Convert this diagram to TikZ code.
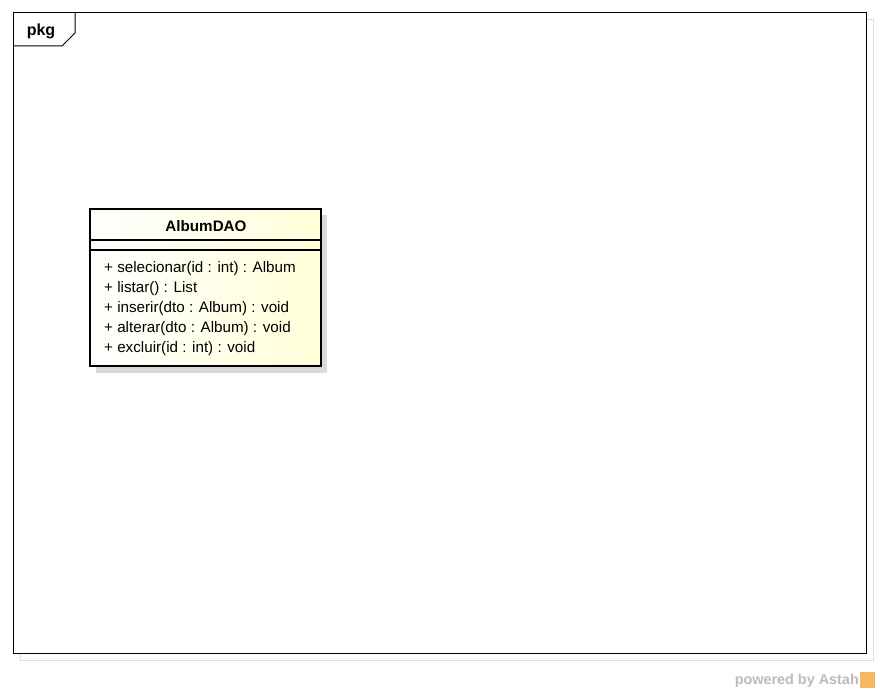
\documentclass[tikz,border=0pt]{standalone}
\usepackage{fontspec}
\setmainfont{Liberation Sans}
\definecolor{classfill}{HTML}{FFFFD8}
\definecolor{shadowgray}{HTML}{D9D9D9}
\definecolor{framegray}{HTML}{DDDDDD}
\definecolor{wmgray}{HTML}{BBBBBB}
\definecolor{astahorange}{HTML}{F5B860}
\tikzset{
  frameline/.style={draw=black, line width=1pt},
  classbox/.style={draw=black, line width=2.6pt, left color=white, right color=classfill},
  member/.style={anchor=west, inner sep=0pt, font=\fontsize{15.2}{17}\selectfont},
}
\begin{document}
\begin{tikzpicture}[x=1pt,y=-1pt]
\useasboundingbox[fill=white] (0,0) rectangle (880,693);
% light outer frame
\draw[framegray, line width=1pt] (20,20) rectangle (873,660);
% package frame
\draw[frameline, fill=white] (13,13) rectangle (866,653);
\coordinate (t1) at (75,13);
\coordinate (t2) at (75,33);
\coordinate (t3) at (62,46);
\coordinate (t4) at (13,46);
\draw[frameline] (t1) -- (t2) -- (t3) -- (t4);
\node[font=\bfseries\fontsize{16}{18}\selectfont, anchor=center] (pkg) at (41,31) {pkg};
% class shadow
\fill[shadowgray] (96,215) rectangle (327,373);
% class box
\draw[classbox] (90,209) rectangle (321,366);
\coordinate (l1a) at (90,240); \coordinate (l1b) at (321,240);
\coordinate (l2a) at (90,250); \coordinate (l2b) at (321,250);
\draw[line width=1.2pt] (l1a) -- (l1b);
\draw[line width=1.2pt] (l2a) -- (l2b);
\node[font=\bfseries\fontsize{15.2}{17}\selectfont] (name) at (206,226.5) {AlbumDAO};
\node[member] (m1) at (104,269) {+ selecionar(id : int) : Album};
\node[member] (m2) at (104,289) {+ listar() : List};
\node[member] (m3) at (104,309) {+ inserir(dto : Album) : void};
\node[member] (m4) at (104,329) {+ alterar(dto : Album) : void};
\node[member] (m5) at (104,349) {+ excluir(id : int) : void};
% watermark
\node[anchor=east, text=wmgray, font=\bfseries\fontsize{14.4}{16}\selectfont, inner sep=0pt] (wm) at (859,681) {powered by Astah};
\fill[astahorange] (860,672) rectangle (875,688);
\end{tikzpicture}
\end{document}
